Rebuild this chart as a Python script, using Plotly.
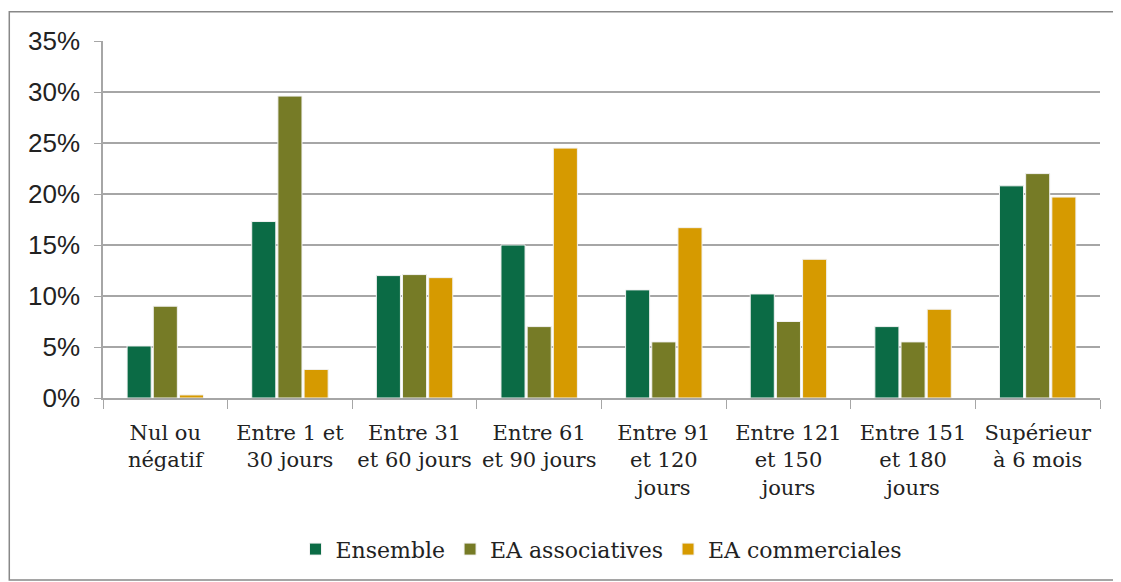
import plotly.graph_objects as go

categories = ["Nul ou<br>négatif", "Entre 1 et<br>30 jours", "Entre 31<br>et 60 jours",
              "Entre 61<br>et 90 jours", "Entre 91<br>et 120<br>jours", "Entre 121<br>et 150<br>jours",
              "Entre 151<br>et 180<br>jours", "Supérieur<br>à 6 mois"]
ensemble = [0.051, 0.173, 0.120, 0.150, 0.106, 0.102, 0.070, 0.208]
associatives = [0.090, 0.296, 0.121, 0.070, 0.055, 0.075, 0.055, 0.220]
commerciales = [0.003, 0.028, 0.118, 0.245, 0.167, 0.136, 0.087, 0.197]

series = [("Ensemble", ensemble, "#0B6B45"),
          ("EA associatives", associatives, "#767B26"),
          ("EA commerciales", commerciales, "#D69A00")]

fig = go.Figure()
for name, vals, col in series:
    fig.add_trace(go.Bar(x=categories, y=vals, name=name, marker_color=col,
                         marker_line=dict(color="#F2F2F2", width=1)))

serif = "DejaVu Serif"
fig.update_layout(
    width=1113, height=574,
    margin=dict(l=95, r=21, t=33, b=178),
    paper_bgcolor="white", plot_bgcolor="white",
    barmode="group", bargap=0.37, bargroupgap=0.08,
    showlegend=True,
    legend=dict(orientation="h", x=0.5, xanchor="center", y=-0.365, yanchor="top",
                bgcolor="rgba(0,0,0,0)",
                font=dict(family=serif, size=22, color="#222")),
    yaxis=dict(range=[0, 0.35], dtick=0.05, tickformat=".0%", automargin=False,
               showgrid=True, gridcolor="#A6A6A6", gridwidth=1.5,
               showline=True, linecolor="#A6A6A6", linewidth=1.5,
               ticks="outside", ticklen=7, tickcolor="#A6A6A6",
               ticklabelstandoff=9,
               tickfont=dict(family="Liberation Sans, Arial, sans-serif", size=26, color="#222"),
               zeroline=False),
    xaxis=dict(showline=True, linecolor="#A6A6A6", linewidth=1.5, automargin=False,
               ticks="outside", tickson="boundaries", ticklen=9, tickcolor="#A6A6A6",
               ticklabelstandoff=15, tickangle=0,
               tickfont=dict(family=serif, size=21, color="#222")),
    shapes=[dict(type="rect", xref="paper", yref="paper",
                 x0=-0.094, x1=1.017, y0=-0.51, y1=1.082,
                 line=dict(color="#888888", width=1.5))],
)

fig.write_html("out.html")
